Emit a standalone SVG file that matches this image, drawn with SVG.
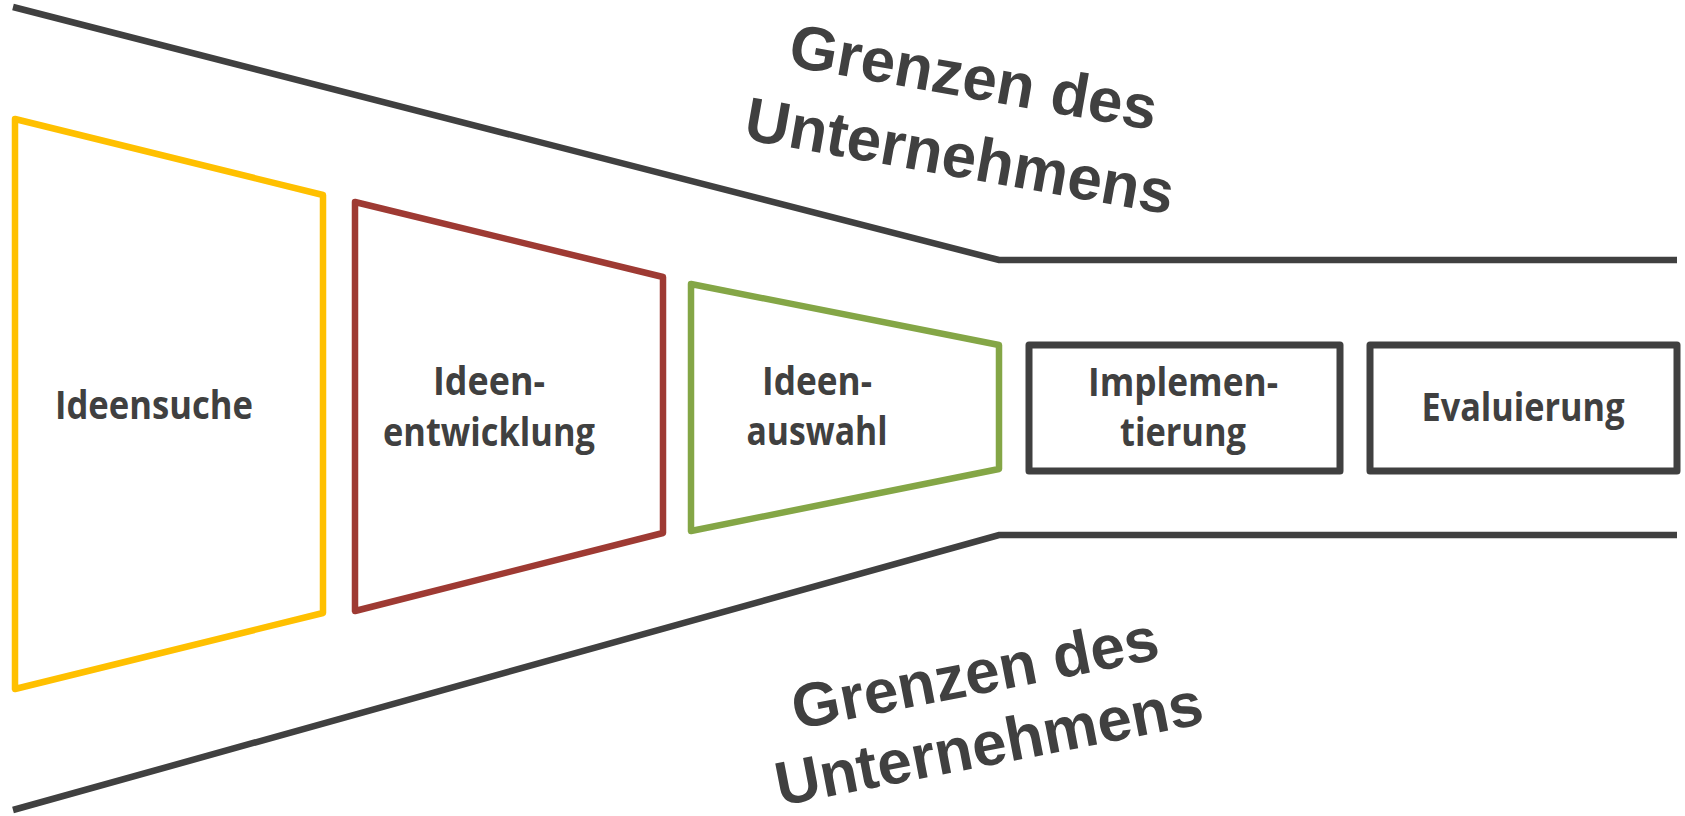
<svg xmlns="http://www.w3.org/2000/svg" width="1685" height="816" viewBox="0 0 1685 816">
<style>
.edge{fill:none;stroke:#404040;stroke-width:6.5;stroke-linejoin:miter}
.shape{fill:#ffffff;stroke-width:6.5;stroke-linejoin:round}
.box{stroke-width:7}
.lbl{font-family:"Open Sans","Liberation Sans",sans-serif;font-weight:700;font-size:39px;fill:#404040;text-anchor:middle}
.big{font-family:"Liberation Sans",Arial,sans-serif;font-weight:700;font-size:62px;fill:#404040;text-anchor:middle}
</style>
<rect width="1685" height="816" fill="#ffffff"/>
<g id="connectors">
<polyline class="edge" points="13,7 999,260 1677,260"/>
<polyline class="edge" points="13,810 999,535 1677,535"/>
</g>
<g id="ideensuche">
<polygon class="shape" stroke="#FFC000" points="15,119 323,195 323,613 15,689"/>
<text class="lbl" x="154" y="419" textLength="198" lengthAdjust="spacingAndGlyphs">Ideensuche</text>
</g>
<g id="ideenentwicklung">
<polygon class="shape" stroke="#9E3A33" points="355,202 663,277 663,533 355,611"/>
<text class="lbl" x="489" y="395" textLength="112" lengthAdjust="spacingAndGlyphs">Ideen-</text>
<text class="lbl" x="489" y="446" textLength="212" lengthAdjust="spacingAndGlyphs">entwicklung</text>
</g>
<g id="ideenauswahl">
<polygon class="shape" stroke="#84A646" points="691,284 999,345 999,469 691,531"/>
<text class="lbl" x="817" y="395" textLength="110" lengthAdjust="spacingAndGlyphs">Ideen-</text>
<text class="lbl" x="817" y="445" textLength="141" lengthAdjust="spacingAndGlyphs">auswahl</text>
</g>
<g id="implementierung">
<rect class="shape box" stroke="#404040" x="1029" y="345" width="311" height="126"/>
<text class="lbl" x="1183" y="396" textLength="190" lengthAdjust="spacingAndGlyphs">Implemen-</text>
<text class="lbl" x="1183" y="446" textLength="126" lengthAdjust="spacingAndGlyphs">tierung</text>
</g>
<g id="evaluierung">
<rect class="shape box" stroke="#404040" x="1370" y="345" width="307" height="126"/>
<text class="lbl" x="1523" y="421" textLength="203" lengthAdjust="spacingAndGlyphs">Evaluierung</text>
</g>
<g id="grenzen-oben" transform="translate(970,98) rotate(10)">
<text class="big" x="0" y="0">Grenzen des</text>
<text class="big" x="0" y="80">Unternehmens</text>
</g>
<g id="grenzen-unten" transform="translate(979,694) rotate(-11)">
<text class="big" x="0" y="0">Grenzen des</text>
<text class="big" x="0" y="72">Unternehmens</text>
</g>
</svg>
